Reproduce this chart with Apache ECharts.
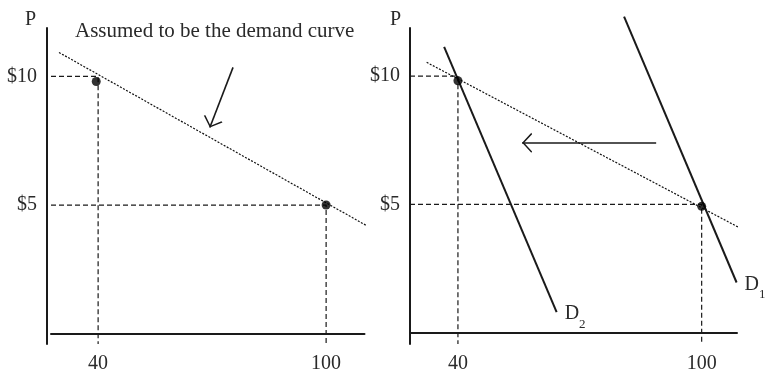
<!DOCTYPE html>
<html><head><meta charset="utf-8">
<script src="https://cdn.jsdelivr.net/npm/echarts@6/dist/echarts.min.js"></script>
<style>html,body{margin:0;padding:0;background:#fff}#c{width:765px;height:374px}</style>
</head><body><div id="c"></div>
<script>
// ---- data ----
const quantityTicks = [40, 100];
const priceTicks = [5, 10];
const guideQuantities = [40, 100];
const guidePrices = [10, 5];
const leftPoints = [[39.5, 9.8], [100, 5]];
const rightPoints = [[40, 9.82], [100, 4.92]];
const leftAssumedDemand = [[29.7, 10.93], [111.5, 4.13]];
const rightAssumedDemand = [[32.3, 10.54], [110.7, 3.97]];
const demandD1 = [[80.9, 12.32], [108.6, 1.95]];
const demandD2 = [[36.6, 11.14], [64.3, 0.79]];
const leftArrow = [[75.5, 10.35], [69.4, 8.01]];
const shiftArrow = [[88.8, 7.4], [55.8, 7.4]];
const leftRangeX = [27.6, 110.1], leftRangeY = [-0.4, 11.88];
const rightRangeX = [28.2, 108.7], rightRangeY = [-0.45, 11.88];

const FONT = '"Liberation Serif", "DejaVu Serif", serif';
const TXT = '#2a2a2a';
const INK = '#1a1a1a';
const chevron = 'path://M0,-10 L0.001,-10 Z M0,0 L7,9.2 L6,10 L0,2 L-6,10 L-7,9.2 Z';

function xAxis(idx, range) {
  return {
    type: 'value', gridIndex: idx, min: range[0], max: range[1],
    axisLine: {show: true, lineStyle: {color: INK, width: 2}},
    axisTick: {show: false}, splitLine: {show: false},
    axisLabel: {customValues: quantityTicks, margin: 10, fontFamily: FONT, fontSize: 20, color: TXT}
  };
}
function yAxis(idx, range, offset, namePad) {
  return {
    type: 'value', gridIndex: idx, min: range[0], max: range[1], offset: offset,
    name: 'P', nameLocation: 'end', nameGap: -2,
    nameTextStyle: {fontFamily: FONT, fontSize: 20, color: TXT, align: 'right', padding: [0, namePad, 0, 0]},
    axisLine: {show: true, lineStyle: {color: INK, width: 2}},
    axisTick: {show: false}, splitLine: {show: false},
    axisLabel: {customValues: priceTicks, margin: 10, fontFamily: FONT, fontSize: 20, color: TXT,
      padding: [3, 0, 0, 0], formatter: v => '$' + v}
  };
}
function guides(idx, rx, ry) {
  return guideQuantities.map((q, i) => ({
    type: 'line', xAxisIndex: idx, yAxisIndex: idx, showSymbol: false, silent: true, clip: false,
    data: [[rx[0], guidePrices[i]], [q, guidePrices[i]], [q, ry[0]]],
    lineStyle: {color: INK, width: 1.2, type: [5, 3]}
  }));
}
function dotted(idx, data) {
  return {type: 'line', xAxisIndex: idx, yAxisIndex: idx, showSymbol: false, clip: false, silent: true,
    data: data, lineStyle: {color: '#111', width: 1.2, type: [2, 1.5]}};
}
function arrow(idx, coords) {
  return {type: 'lines', coordinateSystem: 'cartesian2d', xAxisIndex: idx, yAxisIndex: idx, silent: true,
    symbol: ['none', chevron], symbolSize: [14, 20],
    lineStyle: {color: INK, width: 1.6, opacity: 1, curveness: 0},
    data: [{coords: coords}]};
}
function demand(idx, data, sub) {
  return {type: 'line', xAxisIndex: idx, yAxisIndex: idx, showSymbol: false, clip: false, silent: true,
    data: data, lineStyle: {color: INK, width: 2},
    endLabel: {show: true, distance: 8, offset: [0, 2], formatter: () => '{d|D}{s|' + sub + '}',
      rich: {d: {fontFamily: FONT, fontSize: 20, color: TXT, lineHeight: 33, verticalAlign: 'middle'},
             s: {fontFamily: FONT, fontSize: 13, color: TXT, lineHeight: 4, verticalAlign: 'bottom'}}}};
}
function dots(idx, data) {
  return {type: 'scatter', xAxisIndex: idx, yAxisIndex: idx, symbolSize: 9, z: 10, silent: true,
    itemStyle: {color: '#000'}, data: data};
}

const chart = echarts.init(document.getElementById('c'), null, {renderer: 'canvas'});
chart.setOption({
  animation: false,
  backgroundColor: '#fff',
  title: {text: 'Assumed to be the demand curve', left: 75, top: 21, padding: 0,
    textStyle: {fontFamily: FONT, fontSize: 21, fontWeight: 'normal', color: TXT}},
  grid: [
    {left: 51, top: 28, width: 313.5, height: 316.5},
    {left: 410, top: 28, width: 327, height: 319}
  ],
  xAxis: [xAxis(0, leftRangeX), xAxis(1, rightRangeX)],
  yAxis: [yAxis(0, leftRangeY, 4, 11), yAxis(1, rightRangeY, 0, 9)],
  series: [
    ...guides(0, leftRangeX, leftRangeY),
    ...guides(1, rightRangeX, rightRangeY),
    dotted(0, leftAssumedDemand),
    dotted(1, rightAssumedDemand),
    arrow(0, leftArrow),
    arrow(1, shiftArrow),
    demand(1, demandD1, '1'),
    demand(1, demandD2, '2'),
    dots(0, leftPoints),
    dots(1, rightPoints)
  ]
});
</script></body></html>
